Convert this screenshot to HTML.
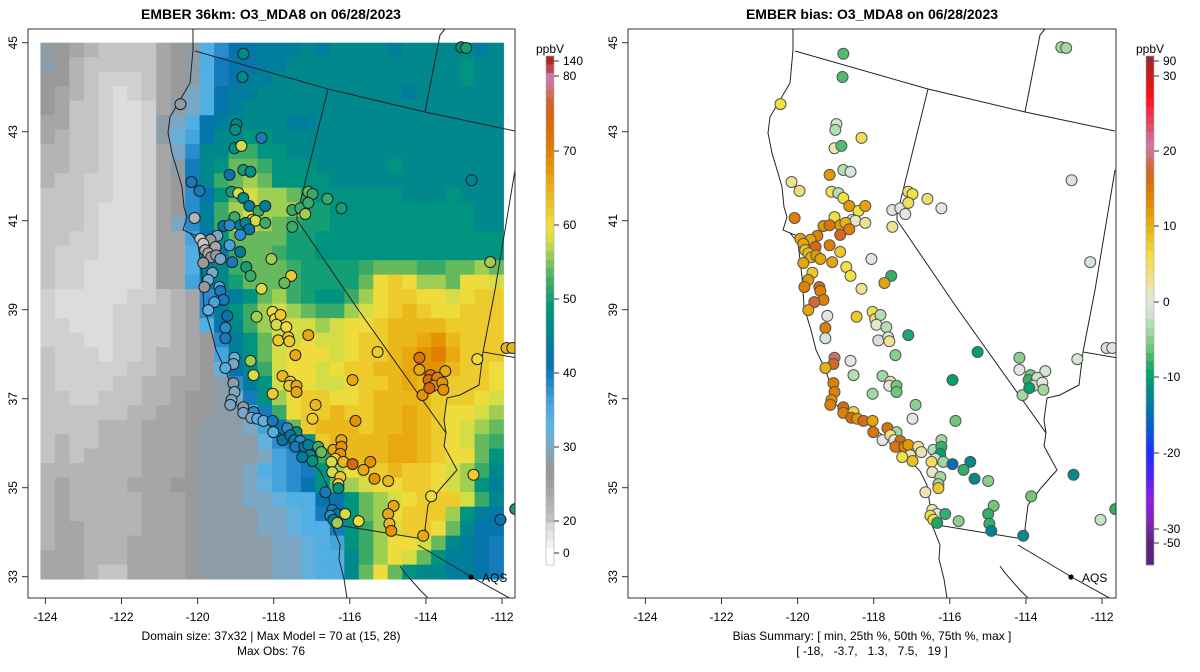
<!DOCTYPE html>
<html><head><meta charset="utf-8"><title>EMBER O3_MDA8</title>
<style>
html,body{margin:0;padding:0;background:#fff;}
svg{display:block;font-family:"Liberation Sans",Arial,sans-serif;}
</style></head>
<body>
<svg id="fig" width="1200" height="672" viewBox="0 0 1200 672" xmlns="http://www.w3.org/2000/svg">
<defs>
<clipPath id="clipL"><rect x="28" y="29" width="487" height="569"/></clipPath>
<clipPath id="clipR"><rect x="628" y="29" width="488" height="569"/></clipPath>
</defs>
<text x="271" y="19" text-anchor="middle" font-size="14" font-weight="bold">EMBER 36km: O3_MDA8 on 06/28/2023</text>
<text x="872" y="19" text-anchor="middle" font-size="14" font-weight="bold">EMBER bias: O3_MDA8 on 06/28/2023</text>
<g id="gridL" clip-path="url(#clipL)"></g>
<g id="linesL" clip-path="url(#clipL)"></g>
<g id="linesR" clip-path="url(#clipR)"></g>
<g id="ptsL" clip-path="url(#clipL)"></g>
<g id="ptsR" clip-path="url(#clipR)"></g>
<rect x="28" y="29" width="487" height="569" fill="none" stroke="#333" stroke-width="1"/>
<rect x="628" y="29" width="488" height="569" fill="none" stroke="#333" stroke-width="1"/>
<g id="axes"></g>
<g id="cbL"></g>
<g id="cbR"></g>
<circle cx="471" cy="577" r="2.6" fill="#000"/>
<text x="482" y="582" font-size="12">AQS</text>
<circle cx="1071" cy="577" r="2.6" fill="#000"/>
<text x="1082" y="582" font-size="12">AQS</text>
<text x="271" y="640" text-anchor="middle" font-size="12">Domain size: 37x32 | Max Model = 70 at (15, 28)</text>
<text x="271" y="655" text-anchor="middle" font-size="12">Max Obs: 76</text>
<text x="872" y="640" text-anchor="middle" font-size="12">Bias Summary: [ min, 25th %, 50th %, 75th %, max ]</text>
<text x="872" y="655" text-anchor="middle" font-size="12" xml:space="preserve">[ -18,   -3.7,   1.3,   7.5,   19 ]</text>
</svg>
<script>
// ---------- data ----------
const gridRows = [
"76543333567aceefffgfggggfgggggfg",
"76433333567adeeffgggggggggggghgg",
"66432223567adeffggggggggggggghgg",
"65432123568aeffggggggggggfgggggg",
"65332112578aefgggggggggggggggggg",
"5533211278aefggggffgggggggggggg",
"5433211279begghhgggggggggggggggg",
"4433211258cggjjhhggggggggggggggg",
"4433211257dghkkjhhhggggghggggggg",
"4332211256dgjklkhhhhgggggggggggg",
"3332211256cehkmllkihhhhhhggghggg",
"3332111256cfjlmllliihhhhhhhhhhgg",
"3332111258cfjmmlkjiihhhhhhhhhhgg",
"3322111255behkkkkiihhhhhhhhhhhhh",
"322211125 5afejkkjiihhhhhhhhhhhhh",
"3221111255afgjkkkjiiiijkkkjjkklk",
"3221111255bfgikkkjiiiiknonllknnm",
"21111122345cdfhkljihhjlnoonnmnoo",
"21111223345cfhjlmlkjjlmnoponnooo",
"22111223345aegjlmmmlmnnoppppoooo",
"222112233456cfhkmmnmmnooppqrpooo",
"322212234456bfhkmnnnmnoopqrsqooo",
"3222223344569egjmnnmnooppqrrpoon",
"32222334455 67cfhmnnmmnoopqppooon",
"33223334456678dhlnoonnoppppooonm",
"333333445566779djnoopooppqponnml",
"33334445556777 8bekopppoppqponmlk",
"343344455567777 9cdhoppppqqponmkj",
"34344445556777 78bcejnpppqqponnkh",
"44444445556777 8abcdhlnoopoonmljg",
"45444455566777 89bcehklmnnoonmlhf",
"454444455567778 89aaeehklmnooomjg",
"454444455567777 889adehklnooolhfe",
"455444455567777 889aadhjlmoonkgee",
"455444555567777 7889abhjlnnmkgfed",
"555444555567777 7889aagjlnmkhffed",
"555433555567777 7889aagknkhggffed"
];
const gridLevels = "0123456789abcdefghijklmnopqrstuvwxyz";
const siteLon = [-118.80,-118.82,-113.07,-112.94,-120.45,-118.98,-119.01,-118.32,-119.03,-118.85,-118.80,-118.61,-119.16,-120.16,-119.95,-119.11,-118.93,-118.80,-120.08,-118.64,-118.40,-118.22,-119.03,-118.56,-118.48,-118.88,-118.74,-119.32,-119.16,-118.64,-118.22,-119.48,-119.66,-119.93,-118.88,-119.85,-119.80,-119.53,-119.16,-119.72,-119.64,-119.51,-119.40,-119.09,-118.88,-119.85,-118.06,-118.72,-118.61,-119.61,-119.72,-117.54,-117.72,-119.82,-119.43,-119.40,-119.32,-119.56,-119.72,-118.32,-119.22,-118.45,-119.27,-118.03,-117.96,-117.82,-117.93,-117.67,-117.51,-117.30,-117.17,-117.51,-117.09,-116.98,-117.09,-116.59,-116.22,-119.27,-117.88,-117.62,-117.59,-117.09,-119.03,-119.06,-119.27,-118.61,-117.43,-115.27,-118.53,-117.77,-117.56,-117.59,-117.40,-117.40,-115.93,-114.17,-114.17,-113.49,-113.88,-113.93,-113.72,-113.70,-113.80,-113.57,-113.54,-114.09,-113.91,-119.06,-119.03,-119.11,-119.14,-118.03,-116.90,-118.80,-118.80,-118.53,-118.59,-118.43,-118.27,-118.03,-118.01,-116.98,-115.85,-117.64,-117.40,-117.77,-117.56,-117.46,-117.30,-117.43,-117.19,-117.09,-116.83,-116.75,-117.04,-117.25,-116.98,-116.43,-116.22,-116.22,-116.25,-116.38,-116.48,-116.17,-115.93,-115.46,-115.64,-115.35,-114.99,-116.46,-116.25,-116.30,-116.30,-116.64,-113.86,-116.46,-116.33,-116.12,-116.51,-116.43,-116.33,-115.77,-114.85,-114.99,-114.96,-114.91,-114.07,-112.80,-112.31,-111.88,-111.73,-112.65,-111.65,-112.04,-112.75];
const siteLat = [44.75,44.23,44.90,44.88,43.62,43.17,43.04,42.86,42.63,42.68,42.14,42.10,42.03,41.87,41.67,41.65,41.62,41.51,41.06,41.33,41.22,41.33,41.08,41.02,41.00,40.90,40.95,40.88,40.90,40.81,40.95,40.66,40.57,40.59,40.68,40.48,40.34,40.41,40.45,40.27,40.18,40.22,40.14,40.07,40.30,40.05,40.14,39.96,39.76,39.83,39.67,39.76,39.60,39.51,39.51,39.42,39.22,39.17,38.99,39.47,38.86,38.84,38.59,38.95,38.79,38.88,38.66,38.61,41.24,41.28,41.15,40.86,41.65,41.60,41.40,41.49,41.28,38.36,38.31,38.38,38.29,38.43,37.92,37.78,37.69,37.85,37.98,38.05,37.53,37.51,37.38,37.29,37.29,37.15,37.42,37.92,37.65,37.62,37.53,37.42,37.40,37.47,37.29,37.36,37.20,37.08,37.24,37.35,37.15,36.97,36.86,37.11,36.86,36.81,36.68,36.70,36.57,36.55,36.50,36.50,36.25,36.55,36.50,36.34,36.25,36.07,36.18,36.07,36.05,35.92,35.92,35.96,35.92,35.80,35.73,35.69,35.60,35.85,36.07,35.92,35.76,35.65,35.58,35.58,35.53,35.58,35.40,35.20,35.15,35.35,35.24,35.08,34.99,34.90,34.81,34.50,34.41,34.41,34.37,34.28,34.21,34.25,34.59,34.41,34.19,34.03,33.92,41.91,40.07,38.14,38.14,37.89,34.52,34.28,35.29];
const siteObs = [47,46,48,50,28,46,48,40,48,58,50,47,42,40,40,50,58,46,22,44,52,44,52,60,58,44,46,42,38,42,52,30,26,20,38,20,22,24,36,24,26,28,30,40,44,26,56,50,52,30,32,62,54,26,34,40,40,36,32,58,42,56,38,60,60,62,58,60,52,52,56,52,54,52,52,52,50,40,62,62,62,66,32,30,34,56,66,62,58,64,62,62,66,66,66,72,66,66,72,74,74,70,68,68,68,68,74,28,30,30,30,62,64,28,30,38,30,34,32,40,34,62,68,38,48,42,42,44,38,40,42,44,52,54,46,44,48,66,66,68,68,62,58,64,74,68,66,68,64,58,62,60,48,40,60,40,44,58,38,44,56,60,66,66,64,68,66,45,56,64,64,60,50,42,62];
const siteBias = [-7,-7,-4,-4,6,-1,-3,5,2,-7,-3,-1,12,3,4,5,-3,6,14,12,6,11,6,0,1,12,10,12,15,14,3,14,11,11,17,11,8,16,14,9,10,12,11,11,8,11,0,6,6,8,12,-8,11,14,17,14,14,18,11,3,0,8,14,6,4,-3,1,-3,0,0,0,3,4,6,5,4,0,-1,-1,0,3,-9,19,17,10,0,-5,-10,-3,-4,3,0,-6,-6,-10,-5,0,-1,-6,-8,-9,-2,-2,0,-4,-4,-10,14,14,13,14,-4,-5,16,14,7,16,12,16,11,15,0,-6,15,-4,0,4,0,16,15,14,12,3,2,2,6,9,-3,-4,-8,-10,-2,5,-4,-15,-12,-8,-12,-5,1,-4,-4,8,2,-6,2,0,-8,6,6,-9,-5,-6,-8,-8,-13,-12,-1,-1,-1,0,-1,-8,-2,-12];
const xTicks = [-124,-122,-120,-118,-116,-114,-112];
const yTicks = [45,43,41,39,37,35,33];
const obsBarTicks = [140,80,70,60,50,40,30,20,0];
const biasBarTicks = [90,30,20,10,0,-10,-20,-30,-50];

// ---------- scales ----------
const NS="http://www.w3.org/2000/svg";
function xL(lon){return 45.4+(lon+124)*38.05;}
function yM(lat){return 42.7+(45-lat)*44.5;}
function hex(h){return [parseInt(h.slice(1,3),16),parseInt(h.slice(3,5),16),parseInt(h.slice(5,7),16)];}
function ramp(stops,v){
  if(v<=stops[0][0])return stops[0][1];
  for(let i=1;i<stops.length;i++){
    if(v<=stops[i][0]){
      const t=(v-stops[i-1][0])/(stops[i][0]-stops[i-1][0]);
      const a=hex(stops[i-1][1]),b=hex(stops[i][1]);
      return "rgb("+a.map((c,k)=>Math.round(c+(b[k]-c)*t)).join(",")+")";
    }
  }
  return stops[stops.length-1][1];
}
const obsStops=[[0,"#ffffff"],[10,"#e8e8e8"],[16,"#dcdcdc"],[18,"#d0d0d0"],[20,"#c4c4c4"],[22,"#b4b4b4"],[24,"#a6a6a6"],[26,"#9a9a9a"],[27,"#939898"],[29,"#86a2b6"],[31,"#70acd4"],[33,"#58b4e6"],[36,"#44a4dc"],[38,"#2a8ccc"],[41,"#0a72b4"],[43,"#0078a4"],[45,"#008492"],[47,"#008c88"],[49,"#009a78"],[51,"#26a46e"],[53,"#4cb062"],[55,"#80c458"],[57,"#bcd84c"],[59,"#ece040"],[61,"#f0d638"],[63,"#ecc020"],[66,"#e8a810"],[68,"#e49400"],[70,"#e08000"],[73,"#dc6c00"],[76,"#d46020"],[78,"#cc7070"],[80,"#c87ab0"],[110,"#c04848"],[140,"#a82828"]];
const biasStops=[[-50,"#5a2278"],[-34,"#6a2a90"],[-30,"#7a22a8"],[-26,"#9020e0"],[-23,"#5020f0"],[-20,"#1a30f8"],[-17,"#0858d8"],[-14,"#0078a8"],[-12,"#008a88"],[-10,"#00a070"],[-8,"#30b068"],[-6,"#70c878"],[-4,"#a0d8a0"],[-2,"#c8e4c8"],[0,"#e4e4e4"],[2,"#ece4b0"],[4,"#eee070"],[6,"#f0e040"],[8,"#ecc828"],[10,"#e8b010"],[12,"#e49800"],[14,"#e08000"],[16,"#d86a10"],[18,"#d06838"],[19,"#d07070"],[21,"#cc78a8"],[23,"#e05070"],[25,"#f03050"],[27,"#ff1010"],[30,"#cc1818"],[90,"#a02828"]];
const obsKnots=[[0,553],[20,521],[30,447],[40,373],[50,299],[60,225],[70,151],[80,76],[140,61]];
const biasKnots=[[-50,543],[-30,529],[-20,453],[-10,377],[0,302],[10,226],[20,151],[30,76],[90,61]];
function knotY(kn,v){for(let i=1;i<kn.length;i++){if(v<=kn[i][0]){const t=(v-kn[i-1][0])/(kn[i][0]-kn[i-1][0]);return kn[i-1][1]+(kn[i][1]-kn[i-1][1])*t;}}return kn[kn.length-1][1];}
function knotV(kn,y){ if(y>=kn[0][1])return kn[0][0]; for(let i=1;i<kn.length;i++){if(y>=kn[i][1]){const t=(y-kn[i-1][1])/(kn[i][1]-kn[i-1][1]);return kn[i-1][0]+(kn[i][0]-kn[i-1][0])*t;}} return kn[kn.length-1][0];}

// ---------- grid ----------
const gridL=document.getElementById('gridL');
const cellW=0.3803, cellH=0.3258, lon0=-124.13, lat0=45.0;
gridRows.forEach((rowRaw,r)=>{
  const row=rowRaw.replace(/ /g,'');
  for(let c=0;c<32;c++){
    const ch=row[Math.min(c,row.length-1)];
    const v=14+2*gridLevels.indexOf(ch);
    const x0=xL(lon0+c*cellW), x1=xL(lon0+(c+1)*cellW);
    const y0=yM(lat0-r*cellH), y1=yM(lat0-(r+1)*cellH);
    const el=document.createElementNS(NS,'rect');
    el.setAttribute('x',x0.toFixed(2));el.setAttribute('y',y0.toFixed(2));
    el.setAttribute('width',(x1-x0+0.4).toFixed(2));el.setAttribute('height',(y1-y0+0.4).toFixed(2));
    el.setAttribute('fill',ramp(obsStops,v));
    
    
    gridL.appendChild(el);
  }
});

// ---------- borders ----------
const coast="M193,29 L193,50 L190,83 L180,100 L170,117 L168,133 L172,153 L178,173 L182,187 L184,207 L187,217 L183,230 L190,233 L198,243 L200,260 L202,277 L203,290 L204,307 L211,330 L216,350 L226,371 L231,387 L230,401 L243,409 L263,421 L277,431 L290,441 L304,455 L310,461 L320,471 L327,485 L330,505 L332,525 L340,545 L339,559 L344,579 L347,598";
const borders=["M195,51 L328,89 L425,112 L515,131","M425,112 L440,35 L445,29","M328,89 L297,215 L297,220 L357,308 L446,433 L444,446 L457,470 L441,488 L428,505 L425,529 L428,536","M331,524 L423,539","M418,545 L475,579 L515,601","M515,170 L495,290 L483,352 L518,358","M483,352 L479,385 L460,395 L447,398 L444,420 L446,433","M400,566 L405,573 L420,590 L428,598","M190,233 L200,237 L207,244 L214,240"];
function drawLines(gid,dx){
  const g=document.getElementById(gid);
  [coast].concat(borders).forEach((d,i)=>{
    const p=document.createElementNS(NS,'path');
    p.setAttribute('d',d);p.setAttribute('fill','none');p.setAttribute('stroke','#222');p.setAttribute('stroke-width','1');
    p.setAttribute('transform','translate('+dx+',0)');
    
    
    g.appendChild(p);
  });
}
drawLines('linesL',0);drawLines('linesR',600);

// ---------- sites ----------
const ptsL=document.getElementById('ptsL'), ptsR=document.getElementById('ptsR');
for(let i=0;i<siteLon.length;i++){
  const cx=xL(siteLon[i]), cy=yM(siteLat[i]);
  const a=document.createElementNS(NS,'circle');
  a.setAttribute('cx',cx.toFixed(1));a.setAttribute('cy',cy.toFixed(1));a.setAttribute('r','5.5');
  a.setAttribute('fill',ramp(obsStops,siteObs[i]));a.setAttribute('stroke','#222');a.setAttribute('stroke-width','1');
  
  
  ptsL.appendChild(a);
  const b=document.createElementNS(NS,'circle');
  b.setAttribute('cx',(cx+600).toFixed(1));b.setAttribute('cy',cy.toFixed(1));b.setAttribute('r','5.5');
  b.setAttribute('fill',ramp(biasStops,siteBias[i]));b.setAttribute('stroke','#555');b.setAttribute('stroke-width','1');
  
  
  ptsR.appendChild(b);
}

// ---------- axes ----------
const axes=document.getElementById('axes');
function mk(tag,attrs,parent){const e=document.createElementNS(NS,tag);for(const k in attrs)e.setAttribute(k,attrs[k]);parent.appendChild(e);return e;}
[0,600].forEach(dx=>{
  xTicks.forEach(t=>{
    const x=xL(t)+dx;
    const l=mk('line',{x1:x,x2:x,y1:598,y2:604,stroke:'#333'},axes);
    
    
    const tx=mk('text',{x:x,y:621,'text-anchor':'middle','font-size':12},axes);
    tx.textContent=String(t).replace('-','-');
    
    
  });
  yTicks.forEach(t=>{
    const y=yM(t);
    const fx=28+dx;
    const l=mk('line',{x1:fx,x2:fx-6,y1:y,y2:y,stroke:'#333'},axes);
    
    
    const tx=mk('text',{x:0,y:0,'text-anchor':'middle','font-size':12,transform:'translate('+(fx-11)+','+y+') rotate(-90)'},axes);
    tx.textContent=t;
    
    
  });
});

// ---------- colorbars ----------
function colorbar(gid,x0,stops,knots,ticks){
  const g=document.getElementById(gid);
  const top=56,bot=565,n=60,h=(bot-top)/n;
  for(let i=0;i<n;i++){
    const yc=top+(i+0.5)*h;
    const v=knotV(knots,yc);
    const r=mk('rect',{x:x0,y:(top+i*h).toFixed(2),width:8,height:(h+0.3).toFixed(2),fill:ramp(stops,v)},g);
    
    
  }
  const fr=mk('rect',{x:x0,y:top,width:8,height:bot-top,fill:'none',stroke:'#aaa','stroke-width':0.6},g);
  
  
  ticks.forEach(t=>{
    const y=knotY(knots,t);
    const l=mk('line',{x1:x0+8,x2:x0+13,y1:y,y2:y,stroke:'#333'},g);
    
    
    const tx=mk('text',{x:x0+17,y:y+4,'font-size':12},g);
    tx.textContent=t;
    
    
  });
  const tt=mk('text',{x:x0+4,y:53,'text-anchor':'middle','font-size':12},g);
  tt.textContent='ppbV';
  
  
}
colorbar('cbL',546,obsStops,obsKnots,obsBarTicks);
colorbar('cbR',1146,biasStops,biasKnots,biasBarTicks);
</script>
</body></html>
